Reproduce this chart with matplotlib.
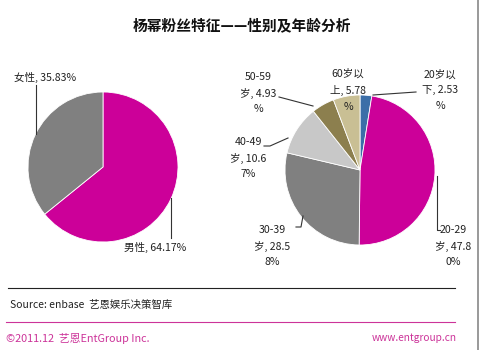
import matplotlib
matplotlib.use("Agg")
import matplotlib.pyplot as plt

plt.rcParams['font.family'] = ['Noto Sans CJK SC', 'DejaVu Sans']

# gender split
gender_labels = ["男性", "女性"]
gender_values = [64.17, 35.83]
gender_colors = ["#CC0099", "#808080"]

# age split
age_labels = ["20岁以下", "20-29岁", "30-39岁", "40-49岁", "50-59岁", "60岁以上"]
age_values = [2.53, 47.80, 28.58, 10.67, 4.93, 5.78]
age_colors = ["#3C6EA8", "#CC0099", "#808080", "#C8C8C8", "#8C7F4E", "#C9BF94"]

# label text as wrapped in the callouts
age_texts = ["20岁以\n下, 2.53\n%", "20-29\n岁, 47.8\n0%", "30-39\n岁, 28.5\n8%",
             "40-49\n岁, 10.6\n7%", "50-59\n岁, 4.93\n%", "60岁以\n上, 5.78\n%"]

W, H = 480, 350


def Y(y):
    # pixel row (top-down) -> axes y
    return H - y


fig = plt.figure(figsize=(4.8, 3.5), dpi=100)
ax = fig.add_axes([0, 0, 1, 1])

wp = dict(edgecolor="white", linewidth=0.6)
ax.pie(gender_values, colors=gender_colors, startangle=90, counterclock=False,
       center=(103, Y(167)), radius=75, wedgeprops=wp, frame=True)
ax.pie(age_values, colors=age_colors, startangle=90, counterclock=False,
       center=(360, Y(170)), radius=75, wedgeprops=wp, frame=True)

ax.set_xlim(0, W)
ax.set_ylim(0, H)
ax.set_aspect("auto")
ax.axis("off")

lab = dict(fontsize=7.6, color="#222222")
lc = dict(color="#333333", lw=0.8)

# gender callouts
ax.text(14, Y(77), f"{gender_labels[1]}, {gender_values[1]:.2f}%", ha="left", va="center", **lab)
ax.plot([36, 36], [Y(85), Y(134)], **lc)
ax.text(124, Y(247), f"{gender_labels[0]}, {gender_values[0]:.2f}%", ha="left", va="center", **lab)
ax.plot([171, 171], [Y(198), Y(238)], **lc)

# age callouts
pos = [(440, 90), (453, 246), (272, 246), (248, 158), (258, 93), (348, 90)]
for (x, y), t in zip(pos, age_texts):
    ax.text(x, Y(y), t, ha="center", va="center", linespacing=1.7, **lab)

ax.plot([416, 373], [Y(92), Y(95)], **lc)          # 20岁以下
ax.plot([437, 437, 440], [Y(176), Y(230), Y(230)], **lc)  # 20-29
ax.plot([296, 301, 303], [Y(227), Y(227), Y(216)], **lc)  # 30-39
ax.plot([264, 270, 288], [Y(146), Y(146), Y(138)], **lc)  # 40-49
ax.plot([279, 313], [Y(97), Y(106)], **lc)          # 50-59

# title
ax.text(242, Y(25), "杨幂粉丝特征——性别及年龄分析", ha="center", va="center",
        fontsize=10.6, fontweight="bold", color="#111111")

# footer
ax.plot([8, 455], [Y(288), Y(288)], color="#222222", lw=0.8)
ax.text(10, Y(305), "Source: enbase  艺恩娱乐决策智库", ha="left", va="center",
        fontsize=7.5, color="#222222")
ax.plot([6, 455], [Y(322), Y(322)], color="#CC3399", lw=0.8)
ax.text(6, Y(338), "©2011.12  艺恩EntGroup Inc.", ha="left", va="center",
        fontsize=7.8, color="#CC3399")
ax.text(457, Y(338), "www.entgroup.cn", ha="right", va="center",
        fontsize=7.3, color="#CC3399")

# right border
ax.plot([478, 478], [0, H], color="#888888", lw=1.2)

fig.savefig("out.png", dpi=100)
